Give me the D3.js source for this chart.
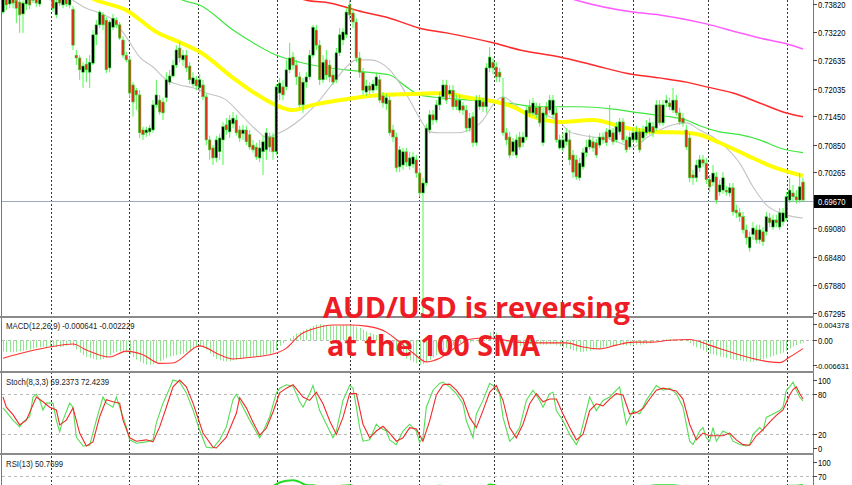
<!DOCTYPE html>
<html><head><meta charset="utf-8">
<script src="https://cdn.jsdelivr.net/npm/d3@7"></script>
<style>html,body{margin:0;padding:0;background:#fff;}svg{display:block;}</style>
</head><body>
<svg id="c" width="852" height="485"></svg>
<script>
// ---------- DATA ----------
const openP = [.7365,.7397,.7382,.7399,.7390,.7386,.7361,.7382,.7395,.7390,
.7397,.7382,.7397,.7411,.7395,.7395,.7359,.7397,.7380,.7393,
.7380,.7371,.7274,.7268,.7238,.7255,.7238,.7257,.7317,.7338,
.7359,.7348,.7247,.7333,.7348,.7338,.7306,.7274,.7264,.7211,
.7200,.7190,.7116,.7110,.7112,.7116,.7169,.7179,.7175,.7184,
.7217,.7230,.7253,.7289,.7264,.7274,.7251,.7213,.7222,.7205,
.7211,.7186,.7095,.7078,.7057,.7070,.7095,.7127,.7112,.7129,
.7137,.7116,.7108,.7116,.7106,.7084,.7080,.7057,.7070,.7074,
.7101,.7101,.7070,.7194,.7207,.7207,.7243,.7270,.7253,.7228,
.7169,.7217,.7228,.7274,.7327,.7295,.7222,.7264,.7253,.7232,
.7222,.7279,.7306,.7317,.7380,.7363,.7344,.7268,.7238,.7196,
.7209,.7200,.7209,.7222,.7188,.7171,.7179,.7116,.7101,.7038,
.7042,.7070,.7040,.7044,.7053,.7025,.6983,.7004,.7116,.7148,
.7137,.7169,.7186,.7211,.7192,.7200,.7179,.7158,.7167,.7158,
.7120,.7144,.7089,.7165,.7175,.7165,.7247,.7259,.7249,.7238,
.7184,.7110,.7101,.7070,.7063,.7101,.7089,.7101,.7165,.7152,
.7163,.7165,.7089,.7165,.7158,.7148,.7152,.7078,.7078,.7091,
.7095,.7063,.7053,.7015,.7038,.7068,.7080,.7091,.7089,.7084,
.7101,.7112,.7101,.7110,.7095,.7112,.7133,.7095,.7080,.7095,
.7095,.7112,.7099,.7110,.7112,.7123,.7120,.7169,.7131,.7173,
.7173,.7158,.7179,.7152,.7141,.7116,.7099,.7021,.7015,.7036,
.7053,.7046,.7011,.7006,.7017,.6985,.6989,.6989,.6983,.6994,
.6947,.6941,.6933,.6905,.6867,.6895,.6905,.6884,.6901,.6901,
.6930,.6911,.6926,.6911,.6922,.6930,.6968,.6983,.6975,.6968,
.7006];
const highP = [.7411,.7407,.7403,.7407,.7397,.7395,.7390,.7403,.7401,.7409,
.7403,.7401,.7416,.7420,.7416,.7401,.7393,.7403,.7401,.7399,
.7401,.7378,.7285,.7274,.7259,.7268,.7274,.7327,.7348,.7369,
.7365,.7354,.7348,.7361,.7354,.7344,.7314,.7281,.7272,.7217,
.7205,.7200,.7123,.7123,.7127,.7179,.7222,.7190,.7184,.7238,
.7243,.7264,.7295,.7302,.7285,.7285,.7259,.7238,.7230,.7234,
.7222,.7192,.7104,.7084,.7104,.7108,.7133,.7141,.7148,.7154,
.7148,.7125,.7127,.7125,.7116,.7095,.7089,.7095,.7104,.7120,
.7110,.7110,.7213,.7226,.7222,.7264,.7300,.7281,.7264,.7238,
.7226,.7238,.7285,.7338,.7338,.7306,.7274,.7285,.7264,.7243,
.7289,.7331,.7331,.7373,.7390,.7373,.7352,.7281,.7247,.7222,
.7217,.7222,.7238,.7232,.7196,.7192,.7188,.7127,.7110,.7082,
.7078,.7078,.7070,.7070,.7063,.7036,.7015,.7129,.7158,.7158,
.7179,.7196,.7222,.7222,.7211,.7211,.7190,.7190,.7175,.7169,
.7152,.7154,.7190,.7190,.7184,.7257,.7291,.7268,.7259,.7247,
.7226,.7120,.7112,.7099,.7106,.7112,.7112,.7169,.7179,.7184,
.7173,.7173,.7163,.7175,.7190,.7190,.7163,.7106,.7110,.7120,
.7116,.7074,.7063,.7057,.7078,.7095,.7106,.7101,.7097,.7110,
.7110,.7120,.7169,.7120,.7133,.7141,.7141,.7104,.7112,.7120,
.7125,.7120,.7125,.7137,.7141,.7133,.7179,.7179,.7179,.7190,
.7184,.7205,.7190,.7163,.7152,.7127,.7110,.7032,.7053,.7063,
.7063,.7057,.7021,.7042,.7027,.7011,.7027,.6998,.7004,.7004,
.6958,.6951,.6943,.6916,.6901,.6922,.6916,.6916,.6911,.6943,
.6941,.6937,.6937,.6951,.6951,.6985,.7015,.7000,.6989,.7025,
.7015];
const lowP = [.7361,.7369,.7373,.7373,.7342,.7321,.7321,.7369,.7371,.7384,
.7376,.7376,.7393,.7395,.7390,.7365,.7352,.7378,.7373,.7376,
.7373,.7285,.7253,.7222,.7205,.7217,.7205,.7253,.7295,.7331,
.7327,.7236,.7238,.7327,.7331,.7306,.7268,.7259,.7184,.7144,
.7158,.7099,.7095,.7101,.7104,.7110,.7163,.7148,.7137,.7175,
.7211,.7226,.7247,.7259,.7251,.7238,.7213,.7207,.7200,.7196,
.7179,.7084,.7053,.7042,.7048,.7053,.7042,.7106,.7099,.7120,
.7104,.7091,.7095,.7084,.7074,.7068,.7053,.7048,.7021,.7053,
.7070,.7053,.7063,.7179,.7179,.7200,.7236,.7243,.7211,.7163,
.7152,.7205,.7222,.7268,.7285,.7211,.7215,.7222,.7217,.7211,
.7215,.7272,.7295,.7310,.7348,.7331,.7259,.7226,.7190,.7188,
.7192,.7194,.7200,.7173,.7163,.7158,.7104,.7091,.7027,.7027,
.7032,.7038,.7032,.7036,.7015,.6975,.6721,.6998,.7108,.7127,
.7131,.7158,.7179,.7171,.7184,.7158,.7158,.7152,.7148,.7112,
.7112,.7080,.7082,.7158,.7154,.7152,.7238,.7234,.7217,.7217,
.7104,.7084,.7057,.7061,.7057,.7074,.7080,.7095,.7144,.7146,
.7141,.7123,.7082,.7141,.7152,.7141,.7089,.7074,.7070,.7084,
.7042,.7015,.7011,.7009,.7032,.7059,.7074,.7070,.7057,.7078,
.7087,.7082,.7095,.7084,.7089,.7106,.7089,.7068,.7074,.7089,
.7089,.7068,.7091,.7104,.7106,.7101,.7114,.7125,.7125,.7165,
.7158,.7152,.7146,.7127,.7123,.7074,.7006,.7000,.7006,.7027,
.7038,.7002,.6985,.6998,.6960,.6977,.6981,.6977,.6975,.6935,
.6930,.6922,.6897,.6874,.6859,.6884,.6876,.6876,.6871,.6893,
.6911,.6905,.6911,.6905,.6914,.6924,.6962,.6964,.6960,.6962,
.6964];
const closeP = [.7401,.7380,.7395,.7384,.7373,.7359,.7384,.7397,.7380,.7403,
.7384,.7395,.7407,.7399,.7407,.7373,.7386,.7384,.7395,.7382,
.7395,.7295,.7268,.7243,.7251,.7243,.7259,.7317,.7338,.7365,
.7338,.7243,.7344,.7352,.7338,.7310,.7274,.7264,.7194,.7175,
.7190,.7110,.7106,.7116,.7120,.7169,.7190,.7154,.7152,.7222,
.7230,.7253,.7285,.7268,.7274,.7247,.7222,.7226,.7209,.7222,
.7186,.7095,.7074,.7057,.7095,.7099,.7123,.7116,.7137,.7141,
.7110,.7099,.7116,.7091,.7080,.7074,.7059,.7078,.7091,.7110,
.7080,.7070,.7207,.7215,.7190,.7243,.7268,.7253,.7228,.7169,
.7217,.7228,.7274,.7333,.7295,.7222,.7259,.7232,.7228,.7217,
.7279,.7317,.7323,.7365,.7359,.7344,.7268,.7238,.7200,.7209,
.7200,.7213,.7228,.7179,.7173,.7184,.7110,.7101,.7036,.7074,
.7070,.7048,.7057,.7059,.7025,.6983,.7004,.7120,.7148,.7137,
.7169,.7186,.7211,.7179,.7200,.7165,.7165,.7179,.7158,.7120,
.7141,.7089,.7179,.7179,.7165,.7247,.7270,.7247,.7228,.7228,
.7110,.7095,.7063,.7091,.7095,.7080,.7101,.7158,.7152,.7173,
.7148,.7131,.7152,.7148,.7179,.7179,.7095,.7095,.7095,.7110,
.7053,.7027,.7017,.7046,.7068,.7080,.7095,.7078,.7063,.7101,
.7095,.7089,.7116,.7091,.7123,.7133,.7095,.7074,.7101,.7110,
.7112,.7074,.7112,.7123,.7131,.7110,.7169,.7131,.7169,.7179,
.7165,.7179,.7152,.7133,.7131,.7080,.7015,.7015,.7042,.7053,
.7046,.7011,.6996,.7025,.6968,.7000,.7015,.6985,.6994,.6943,
.6941,.6933,.6905,.6888,.6890,.6909,.6884,.6905,.6880,.6933,
.6920,.6926,.6920,.6941,.6941,.6975,.6989,.6975,.6968,.6996,
.6968];

// moving averages: [bar index, price]
const smaGray = [[17,.7411],[21,.7390],[25,.7373],[29,.7363],[33,.7348],[37,.7312],[41,.7270],[45,.7249],[49,.7222],[53,.7211],[57,.7205],[61,.7194],[67,.7179],[72,.7144],[76,.7116],[79,.7101],[83,.7110],[89,.7137],[95,.7179],[99,.7215],[103,.7249],[106,.7264],[110,.7264],[113,.7259],[116,.7243],[119,.7215],[122,.7179],[125,.7141],[128,.7112],[131,.7110],[136,.7110],[140,.7116],[144,.7137],[147,.7169],[150,.7186],[153,.7173],[157,.7152],[162,.7148],[167,.7133],[170,.7112],[173,.7106],[177,.7101],[181,.7099],[185,.7089],[189,.7080],[193,.7099],[197,.7116],[201,.7127],[205,.7131],[209,.7116],[213,.7101],[217,.7078],[221,.7046],[225,.6996],[229,.6958],[233,.6941],[237,.6933],[240,.6930]];
const smaYellow = [[17,.7432],[28,.7390],[37,.7369],[46,.7323],[52,.7304],[59,.7281],[69,.7226],[75,.7196],[83,.7165],[87,.7158],[93,.7169],[103,.7181],[113,.7190],[123,.7192],[133,.7194],[138,.7186],[148,.7175],[153,.7165],[159,.7144],[167,.7133],[177,.7137],[187,.7120],[195,.7112],[205,.7110],[209,.7106],[215,.7089],[223,.7063],[231,.7038],[240,.7019]];
const smaGreen = [[47,.7422],[54,.7390],[59,.7380],[69,.7327],[75,.7300],[81,.7277],[89,.7259],[96,.7249],[103,.7243],[109,.7238],[116,.7232],[121,.7207],[125,.7190],[131,.7184],[141,.7179],[151,.7173],[161,.7165],[173,.7165],[183,.7160],[191,.7152],[200,.7144],[205,.7137],[209,.7125],[215,.7112],[221,.7106],[227,.7095],[233,.7078],[240,.7068]];
const smaRed = [[86,.7401],[91,.7390],[98,.7384],[108,.7365],[116,.7352],[125,.7331],[133,.7321],[147,.7300],[155,.7285],[167,.7270],[177,.7253],[187,.7236],[197,.7226],[205,.7217],[211,.7207],[219,.7194],[227,.7173],[235,.7152],[240,.7144]];
const smaMagenta = [[167,.7401],[172,.7390],[189,.7365],[197,.7359],[211,.7340],[220,.7323],[227,.7310],[235,.7298],[240,.7287]];

// MACD(12,26,9) main (histogram), one per bar
const macdMain = [-0.0030,-0.0031,-0.0032,-0.0032,-0.0031,-0.0030,-0.0029,-0.0027,-0.0025,
-0.0022,-0.0020,-0.0019,-0.0018,-0.0018,-0.0017,-0.0017,-0.0018,-0.0018,-0.0017,-0.0015,-0.0012,
-0.0016,-0.0025,-0.0033,-0.0040,-0.0045,-0.0048,-0.0050,-0.0052,-0.0052,-0.0050,-0.0047,
-0.0040,-0.0034,-0.0031,-0.0030,-0.0031,-0.0033,-0.0038,
-0.0045,-0.0052,-0.0058,-0.0062,-0.0065,-0.0066,-0.0064,-0.0060,-0.0056,-0.0052,-0.0048,
-0.0044,-0.0042,-0.0040,-0.0038,-0.0036,-0.0032,-0.0026,-0.0020,
-0.0017,-0.0016,-0.0018,-0.0025,
-0.0035,-0.0044,-0.0050,-0.0054,-0.0056,-0.0057,-0.0056,-0.0054,-0.0052,-0.0050,
-0.0048,-0.0046,-0.0045,-0.0044,-0.0043,-0.0042,-0.0040,-0.0038,-0.0036,-0.0033,-0.0026,
-0.0015,-0.0008,-0.0002,0.0006,0.0012,0.0018,0.0022,
0.0026,0.0030,0.0034,0.0039,0.0042,0.0044,0.0042,0.0041,0.0040,0.0039,0.0039,0.0040,0.0041,0.0042,0.0041,
0.0040,0.0037,0.0033,0.0028,0.0024,0.0020,0.0017,0.0014,0.0010,
0.0004,-0.0004,-0.0012,-0.0020,-0.0028,-0.0036,
-0.0043,-0.0049,-0.0054,-0.0058,-0.0062,-0.0066,-0.0064,-0.0058,-0.0052,
-0.0046,-0.0040,-0.0034,-0.0028,-0.0022,-0.0017,-0.0013,
-0.0010,-0.0008,-0.0006,-0.0005,-0.0006,-0.0004,-0.0002,0.0002,0.0004,0.0010,
0.0022,0.0026,0.0020,0.0014,
0.0004,-0.0004,-0.0010,-0.0013,-0.0014,-0.0015,-0.0014,-0.0012,-0.0011,-0.0010,-0.0010,-0.0011,-0.0012,-0.0012,-0.0011,-0.0011,-0.0013,-0.0016,
-0.0019,-0.0021,-0.0024,-0.0027,-0.0030,-0.0031,-0.0031,-0.0030,-0.0028,-0.0026,-0.0024,-0.0022,
-0.0020,-0.0018,-0.0016,-0.0015,-0.0014,-0.0013,-0.0013,-0.0014,-0.0014,-0.0013,-0.0012,-0.0012,-0.0011,-0.0010,-0.0008,
-0.0005,-0.0002,0.0000,0.0002,0.0003,0.0004,0.0004,0.0003,0.0002,0.0000,-0.0003,-0.0008,
-0.0014,-0.0019,-0.0023,-0.0027,-0.0031,-0.0035,-0.0038,-0.0041,-0.0044,-0.0046,-0.0048,-0.0050,-0.0052,-0.0053,-0.0054,
-0.0056,-0.0057,-0.0058,-0.0057,-0.0056,-0.0054,-0.0051,-0.0048,-0.0045,
-0.0042,-0.0039,-0.0036,-0.0033,-0.0028,-0.0022,-0.0017,-0.0013,-0.0009,-0.000641];
const macdSignal = [[0,-0.0048],[14,-0.0018],[21,-0.0010],[25,-0.0026],[32,-0.0045],[37,-0.0029],[42,-0.0039],[47,-0.0062],[51,-0.0061],[59,-0.0015],[65,-0.0039],[69,-0.0050],[75,-0.0045],[81,-0.0037],[85,-0.0021],[89,0.0014],[94,0.0033],[99,0.0041],[104,0.0041],[109,0.0038],[115,0.0022],[119,-0.0005],[123,-0.0034],[127,-0.0058],[131,-0.0048],[136,-0.0018],[140,0.0003],[145,0.0006],[149,0.0003],[154,-0.0005],[159,-0.0007],[164,-0.0007],[169,-0.0007],[174,-0.0018],[179,-0.0023],[184,-0.0013],[189,-0.0005],[194,-0.0005],[200,0.0000],[206,0.0002],[212,-0.0013],[218,-0.0031],[224,-0.0047],[230,-0.0058],[233,-0.0060],[236,-0.0045],[240,-0.002229]];

// Stochastic(8,3,3)
const stochK = [[0,59],[3,41],[5,31],[6,38],[8,46],[9,75],[10,79],[11,71],[12,56],[13,66],[15,66],[16,41],[17,24],[18,41],[20,66],[21,60],[22,16],[24,3],[26,4],[28,41],[30,75],[31,66],[33,60],[34,75],[35,60],[37,31],[38,12],[40,7],[43,9],[45,12],[46,37],[48,66],[50,88],[51,100],[53,97],[55,81],[57,56],[59,26],[61,1],[63,0],[65,12],[67,31],[69,71],[70,79],[72,60],[74,41],[77,15],[78,24],[80,46],[82,81],[83,88],[85,93],[87,91],[89,68],
[90,60],[92,80],[93,92],[95,55],[97,35],[99,15],[100,25],[102,70],[104,92],[105,88],[106,60],[107,30],[108,10],[110,12],[112,35],[113,30],[115,25],[116,12],[118,5],[120,25],[122,35],[124,25],[125,8],[126,15],[127,60],[129,85],[131,95],[132,97],[134,90],[136,80],[138,65],[139,40],[141,15],[142,50],[144,70],[146,95],[147,92],[149,80],[150,45],[152,10],[153,15],[155,30],[157,70],[159,85],[161,70],[162,60],[164,80],[165,82],[166,55],[168,40],[170,20],[172,5],[173,15],[175,55],[176,75],[178,55],[180,70],[182,75],[184,85],[185,90],[186,60],[187,35],[189,55],[191,50],[193,70],[196,92],[198,85],[200,88],[202,80],[204,60],[205,35],[206,10],[207,5],[209,25],[210,30],[211,15],[212,10],[213,30],[214,10],[216,25],[218,20],[219,10],[221,5],[223,3],[224,5],[225,20],[227,30],[228,25],[229,45],[231,50],[233,55],[234,60],[235,85],[236,90],[237,97],[238,85],[239,75],[240,69.2373]];
const stochD = [[0,75],[1,60],[3,49],[5,34],[7,41],[10,75],[12,68],[14,60],[16,56],[17,34],[19,41],[21,59],[23,22],[25,3],[27,9],[29,46],[31,71],[33,68],[35,66],[36,41],[38,15],[40,10],[43,12],[45,9],[47,31],[49,60],[51,90],[53,100],[55,90],[57,66],[60,22],[63,1],[64,0],[67,16],[70,51],[71,74],[73,59],[75,38],[77,19],[79,29],[81,53],[83,81],[85,88],[87,93],[89,81],
[90,75],[92,70],[94,82],[96,65],[98,40],[100,20],[102,45],[104,80],[106,80],[108,35],[110,15],[112,25],[114,32],[116,22],[118,10],[120,15],[122,30],[124,28],[126,10],[128,40],[130,78],[132,93],[134,94],[136,85],[138,72],[140,45],[142,30],[144,55],[146,82],[148,92],[150,70],[152,30],[154,15],[156,35],[158,65],[160,80],[162,68],[164,72],[166,72],[168,50],[170,30],[172,12],[174,20],[176,55],[178,65],[180,62],[182,72],[184,80],[186,78],[188,50],[190,52],[192,58],[194,72],[196,85],[198,88],[200,86],[202,84],[204,72],[206,35],[208,12],[210,22],[212,18],[214,18],[216,18],[218,22],[220,12],[222,5],[224,4],[226,18],[228,27],[230,38],[232,48],[234,56],[236,78],[237,86],[238,90],[239,80],[240,72.4239]];

// RSI(13)
const rsi13 = [[0,40],[20,42],[28,46],[35,43],[50,42],[60,40],[70,38],[78,42],[81,49],[83,56],[85,60],[87,61],[89,57],[91,51],[93,50],[96,47],[100,48],[104,50],[107,46],[112,45],[118,38],[125,33],[127,44],[131,49],[133,48],[138,46],[141,42],[145,48],[146,52],[148,49],[150,44],[155,42],[159,47],[166,42],[172,38],[176,44],[185,47],[190,45],[196,50],[201,50],[204,47],[206,40],[214,35],[223,30],[230,37],[235,46],[236,49],[238,49],[240,50.7699]];

const priceTicks = [0.73820,0.73220,0.72635,0.72035,0.71450,0.70850,0.70265,0.69080,0.68480,0.67880,0.67295];
const lastPrice = 0.69670;
const macdTicks = [0.004378, 0, -0.006631];
const stochTicks = [100,80,20,0];
const stochLevels = [80,20];
const rsiTicks = [100,70];
const rsiLevels = [70,30];
const sessionBreaks = [14.4,37.8,58.5,82.2,104.1,124.8,147.3,167.7,189,211.5,235.2];
const headers = {macd:"MACD(12,26,9) -0.000641 -0.002229", stoch:"Stoch(8,3,3) 69.2373 72.4239", rsi:"RSI(13) 50.7699"};
const note = ["AUD/USD is reversing","at the 100 SMA"];

// ---------- DRAWING ----------
const svg = d3.select("#c");
const R = 813; // right edge of plotting area
const x = d3.scaleLinear().domain([0,240]).range([3,803]);
const yMain = d3.scaleLinear().domain([0.67295,0.73820]).range([313,4]);
const yMacd = d3.scaleLinear().domain([-0.006631,0.004378]).range([365,324]);
const ySto = d3.scaleLinear().domain([0,100]).range([448,380]);
const yRsi = d3.scaleLinear().domain([0,100]).range([508.7,462]);

svg.append("rect").attr("width",852).attr("height",485).attr("fill","#fff");
const defs = svg.append("defs");
function clip(id,y0,h){defs.append("clipPath").attr("id",id).append("rect").attr("x",2).attr("y",y0).attr("width",R-2).attr("height",h);}
clip("cMain",0,316); clip("cMacd",318,53); clip("cSto",373,80); clip("cRsi",455,30);

// vertical session grid
const grid = svg.append("g");
sessionBreaks.forEach(b=>{
  grid.append("line").attr("x1",Math.round(x(b))+0.5).attr("x2",Math.round(x(b))+0.5)
    .attr("y1",0).attr("y2",485).attr("stroke","#333").attr("stroke-dasharray","2,2").attr("stroke-width",1);
});

// horizontal dashed levels
function hLevel(y){svg.append("line").attr("x1",2).attr("x2",R).attr("y1",Math.round(y)+0.5).attr("y2",Math.round(y)+0.5)
  .attr("stroke","#b8b8b8").attr("stroke-dasharray","3,3");}
hLevel(yMacd(0)); stochLevels.forEach(v=>hLevel(ySto(v))); rsiLevels.forEach(v=>{ if(yRsi(v)<485) hLevel(yRsi(v)); });

// main pane
const gMain = svg.append("g").attr("clip-path","url(#cMain)");
gMain.append("line").attr("x1",2).attr("x2",R).attr("y1",Math.round(yMain(lastPrice))+0.5).attr("y2",Math.round(yMain(lastPrice))+0.5)
  .attr("stroke","#9aaabb").attr("stroke-width",1);
const ln = d3.line().x(d=>x(d[0])).y(d=>yMain(d[1])).curve(d3.curveMonotoneX);
[[smaMagenta,"#ff5cff",1.5],[smaRed,"#ff2a2a",1.5],[smaGreen,"#3fe63f",1.2],[smaGray,"#c4c4c4",1.1],[smaYellow,"#ffff00",4]].forEach(([d,c,w])=>{
  gMain.append("path").attr("d",ln(d)).attr("fill","none").attr("stroke",c).attr("stroke-width",w);
});
// candles
const idx = d3.range(openP.length);
gMain.selectAll("line.w").data(idx).join("line").attr("class","w")
  .attr("x1",i=>x(i)).attr("x2",i=>x(i)).attr("y1",i=>yMain(highP[i])).attr("y2",i=>yMain(lowP[i]))
  .attr("stroke","#52f552").attr("stroke-width",1);
gMain.selectAll("rect.b").data(idx).join("rect").attr("class","b")
  .attr("x",i=>x(i)-1.3).attr("width",2.6)
  .attr("y",i=>yMain(Math.max(openP[i],closeP[i])))
  .attr("height",i=>Math.max(1,Math.abs(yMain(openP[i])-yMain(closeP[i]))))
  .attr("fill",i=>closeP[i]>=openP[i]?"#000":"#d8341c")
  .attr("stroke","#2ee82e").attr("stroke-width",0.6);

// MACD pane
const gMacd = svg.append("g").attr("clip-path","url(#cMacd)");
gMacd.selectAll("line").data(macdMain).join("line")
  .attr("x1",(d,i)=>Math.round(x(i))+0.5).attr("x2",(d,i)=>Math.round(x(i))+0.5)
  .attr("y1",yMacd(0)).attr("y2",d=>yMacd(d)).attr("stroke","#8fe88f").attr("stroke-width",1);
gMacd.append("path").attr("d",d3.line().x(d=>x(d[0])).y(d=>yMacd(d[1])).curve(d3.curveMonotoneX)(macdSignal))
  .attr("fill","none").attr("stroke","#ff3030").attr("stroke-width",1.1);

// Stoch pane
const gSto = svg.append("g").attr("clip-path","url(#cSto)");
const lnS = d3.line().x(d=>x(d[0])).y(d=>ySto(d[1]));
gSto.append("path").attr("d",lnS(stochK)).attr("fill","none").attr("stroke","#55dd55").attr("stroke-width",1.1);
gSto.append("path").attr("d",lnS(stochD)).attr("fill","none").attr("stroke","#f02a2a").attr("stroke-width",1.1);

// RSI pane
const gRsi = svg.append("g").attr("clip-path","url(#cRsi)");
gRsi.append("path").attr("d",d3.line().x(d=>x(d[0])).y(d=>yRsi(d[1])).curve(d3.curveMonotoneX)(rsi13))
  .attr("fill","none").attr("stroke","#22dd22").attr("stroke-width",2);

// borders and separators
svg.append("line").attr("x1",1.5).attr("x2",1.5).attr("y1",0).attr("y2",485).attr("stroke","#777");
svg.append("line").attr("x1",R+0.5).attr("x2",R+0.5).attr("y1",0).attr("y2",485).attr("stroke","#777");
[317,372,454].forEach(y=>svg.append("rect").attr("x",0).attr("y",y-1).attr("width",R+1).attr("height",2).attr("fill","#8a8a8a"));

// small compressed text helper
function smallText(str,tx,ty,opts={}){
  const t = svg.append("text").attr("x",tx).attr("y",ty).text(str)
    .attr("font-family","Liberation Sans, Arial, sans-serif").attr("font-size",opts.size||9.5)
    .attr("fill",opts.fill||"#000");
  const w = t.node().getComputedTextLength()*(opts.k||0.8);
  t.attr("textLength",w).attr("lengthAdjust","spacingAndGlyphs");
  return t;
}
// right axes
function axis(ticks,scale,fmt,opts={}){
  ticks.forEach(v=>{
    const yy = Math.round(scale(v))+0.5;
    svg.append("line").attr("x1",R).attr("x2",R+4).attr("y1",yy).attr("y2",yy).attr("stroke","#444");
    const s = fmt(v);
    if (s.length > 7) {
      // long labels: smaller font, right-aligned so they stay inside the frame
      svg.append("text").attr("x",849).attr("y",yy+3).attr("text-anchor","end").text(s)
        .attr("font-family","Liberation Sans, Arial, sans-serif").attr("font-size",7.4).attr("fill","#000");
    } else {
      smallText(s, 818, yy+3.3);
    }
  });
}
axis(priceTicks,yMain,d3.format(".5f"));
axis(macdTicks,yMacd,v=>v===0?"0.00":d3.format(".6f")(v).replace("−","-"));
axis(stochTicks,ySto,d3.format("d"));
axis(rsiTicks,yRsi,d3.format("d"));
// last price label
const ly = Math.round(yMain(lastPrice));
svg.append("rect").attr("x",814).attr("y",ly-6).attr("width",38).attr("height",13).attr("fill","#000");
smallText(d3.format(".5f")(lastPrice),818,ly+4,{fill:"#fff"});

// pane headers
smallText(headers.macd,6,329,{fill:"#222",size:9.5,k:0.82});
smallText(headers.stoch,6,385,{fill:"#222",size:9.5,k:0.82});
smallText(headers.rsi,6,467,{fill:"#222",size:9.5,k:0.82});

// annotation
const ann = svg.append("g").attr("font-family","Open Sans, Noto Sans, sans-serif").attr("font-weight",700)
  .attr("font-size",29).attr("fill","#ee1c24");
ann.append("text").attr("x",323).attr("y",318).text(note[0]).attr("textLength",307).attr("lengthAdjust","spacingAndGlyphs");
ann.append("text").attr("x",327).attr("y",356).text(note[1]).attr("textLength",213).attr("lengthAdjust","spacingAndGlyphs");
</script>
</body></html>
